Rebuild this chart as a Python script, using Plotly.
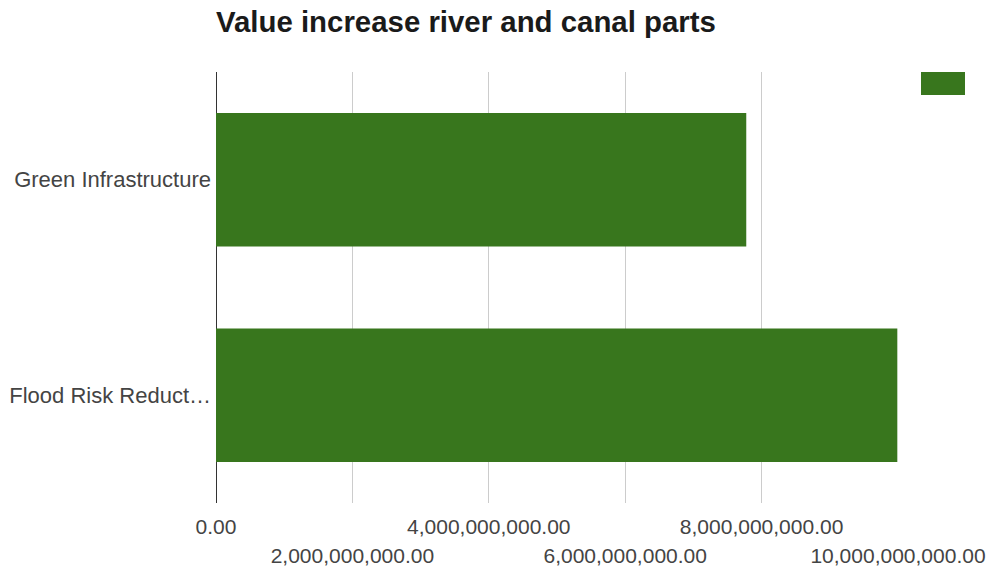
import plotly.graph_objects as go

# Data
categories = ["Green Infrastructure", "Flood Risk Reduction"]
category_labels = ["Green Infrastructure", "Flood Risk Reduct…"]
values = [7.775e9, 9.99e9]

tick_values = [0, 2e9, 4e9, 6e9, 8e9, 10e9]
tick_labels = ["0.00", "2,000,000,000.00", "4,000,000,000.00",
               "6,000,000,000.00", "8,000,000,000.00", "10,000,000,000.00"]

BAR_COLOR = "#38761d"
FONT = "Liberation Sans, Arial, sans-serif"
LABEL_COLOR = "#444444"

fig = go.Figure()
fig.add_trace(go.Bar(
    x=values, y=categories, orientation="h",
    marker=dict(color=BAR_COLOR, line=dict(width=0)),
    showlegend=False,
))

# upper row of tick labels (even positions) on the main axis, lower row on an overlay axis
upper_text = [t if i % 2 == 0 else "" for i, t in enumerate(tick_labels)]
lower_vals = [v for i, v in enumerate(tick_values) if i % 2 == 1]
lower_text = [t for i, t in enumerate(tick_labels) if i % 2 == 1]

fig.update_layout(
    width=992, height=572,
    margin=dict(l=216, r=94, t=72, b=69, autoexpand=False),
    paper_bgcolor="white", plot_bgcolor="white",
    font=dict(family=FONT, size=21, color=LABEL_COLOR),
    title=dict(text="<b>Value increase river and canal parts</b>",
               x=216 / 992, xanchor="left", y=1 - 22 / 572, yanchor="middle",
               font=dict(family=FONT, size=29.4, color="#1a1a1a")),
    bargap=0.38,
    xaxis=dict(
        range=[0, 10e9], tickmode="array", tickvals=tick_values, ticktext=upper_text,
        showgrid=True, gridcolor="#cccccc", gridwidth=1,
        zeroline=True, zerolinecolor="#333333", zerolinewidth=1,
        showline=False, ticks="", ticklabelstandoff=9, automargin=False,
        tickfont=dict(family=FONT, size=21, color=LABEL_COLOR),
    ),
    xaxis2=dict(
        overlaying="x", matches="x", side="bottom", anchor="y",
        tickmode="array", tickvals=lower_vals, ticktext=lower_text,
        showgrid=False, zeroline=False, showline=False, ticks="",
        ticklabelstandoff=38, automargin=False,
        tickfont=dict(family=FONT, size=21, color=LABEL_COLOR),
    ),
    yaxis=dict(
        autorange="reversed", tickmode="array", tickvals=categories,
        ticktext=category_labels, showgrid=False, zeroline=False,
        showline=False, ticks="", ticklabelstandoff=4, automargin=False,
        tickfont=dict(family=FONT, size=22, color=LABEL_COLOR),
    ),
    shapes=[dict(type="rect", xref="paper", yref="paper",
                 x0=(921 - 216) / 682, x1=(965 - 216) / 682,
                 y0=1 - 23 / 431, y1=1.0,
                 fillcolor=BAR_COLOR, line=dict(width=0))],
)

# invisible trace that carries the overlay axis
fig.add_trace(go.Scatter(x=[0, 10e9], y=categories, xaxis="x2", mode="none",
                         showlegend=False, hoverinfo="skip"))

fig.write_html("out.html")
